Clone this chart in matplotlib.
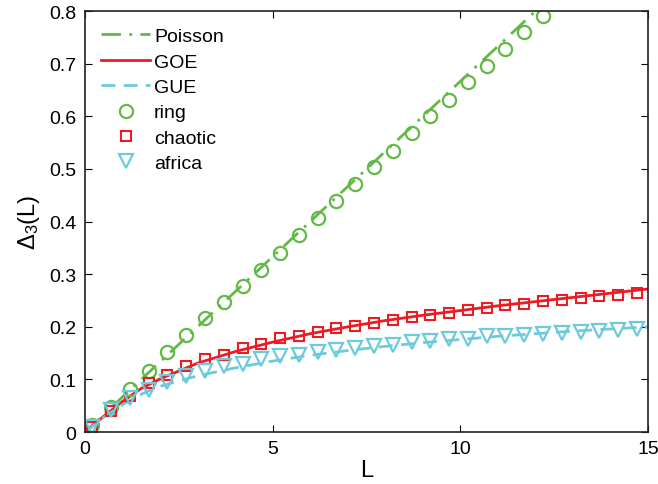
import numpy as np
import matplotlib
matplotlib.use('Agg')
import matplotlib.pyplot as plt

plt.rcParams['font.family'] = ['Liberation Sans', 'DejaVu Sans']
plt.rcParams['mathtext.fontset'] = 'custom'
plt.rcParams['mathtext.rm'] = 'Liberation Sans'
plt.rcParams['mathtext.it'] = 'Liberation Sans'

# theory curves
L_poisson = [0, 15]
poisson = [0, 1.0]

L_theory = [0, 0.5, 1, 1.5, 2, 3, 4, 5, 6, 7, 8, 9, 10, 11, 12, 13, 14, 15]
goe = [0, 0.03, 0.058, 0.083, 0.101, 0.131, 0.153, 0.171, 0.187, 0.200,
       0.212, 0.222, 0.231, 0.240, 0.248, 0.256, 0.264, 0.272]
gue = [0, 0.028, 0.052, 0.072, 0.087, 0.107, 0.122, 0.135, 0.146, 0.155,
       0.163, 0.170, 0.176, 0.182, 0.187, 0.192, 0.196, 0.200]

# measured spectra
L_data = [0.2, 0.7, 1.2, 1.7, 2.2, 2.7, 3.2, 3.7, 4.2, 4.7, 5.2, 5.7, 6.2, 6.7, 7.2,
          7.7, 8.2, 8.7, 9.2, 9.7, 10.2, 10.7, 11.2, 11.7, 12.2, 12.7, 13.2, 13.7, 14.2, 14.7]
ring = [0.013, 0.047, 0.082, 0.117, 0.152, 0.184, 0.216, 0.247, 0.278, 0.309,
        0.341, 0.374, 0.407, 0.439, 0.471, 0.503, 0.535, 0.568, 0.601, 0.632,
        0.665, 0.696, 0.728, 0.760, 0.791, 0.823, 0.855, 0.887, 0.919, 0.951]
chaotic = [0.010, 0.040, 0.069, 0.094, 0.108, 0.126, 0.139, 0.147, 0.160, 0.167,
           0.178, 0.183, 0.190, 0.198, 0.202, 0.207, 0.213, 0.219, 0.223, 0.226,
           0.232, 0.236, 0.241, 0.243, 0.249, 0.251, 0.255, 0.259, 0.260, 0.264]
africa = [0.010, 0.042, 0.064, 0.080, 0.095, 0.107, 0.116, 0.126, 0.129, 0.139,
          0.144, 0.146, 0.152, 0.156, 0.160, 0.164, 0.165, 0.171, 0.173, 0.177,
          0.177, 0.182, 0.183, 0.185, 0.186, 0.188, 0.190, 0.193, 0.194, 0.196]

green = '#62b946'
red = '#ed1c24'
cyan = '#6ccadc'

fig = plt.figure(figsize=(6.58, 4.85), dpi=100)
ax = fig.add_axes([0.129, 0.107, 0.856, 0.868])

ax.plot(L_poisson, poisson, color=green, lw=2, dashes=(7, 3, 1, 3), label='Poisson')
ax.plot(L_theory, goe, color=red, lw=2, label='GOE')
ax.plot(L_theory, gue, color=cyan, lw=2, dashes=(5, 3), label='GUE')

ax.plot(L_data, ring, 'o', ms=9.5, mfc='none', mec=green, mew=1.6, label='ring')
ax.plot(L_data, chaotic, 's', ms=7.5, mfc='none', mec=red, mew=1.5, label='chaotic')
ax.plot(L_data, africa, 'v', ms=9.5, mfc='none', mec=cyan, mew=1.6, label='africa')

ax.set_xlim(0, 15)
ax.set_ylim(0, 0.8)
ax.set_xticks([0, 5, 10, 15])
ax.set_yticks(np.arange(0, 0.81, 0.1))
ax.set_yticklabels(['0', '0.1', '0.2', '0.3', '0.4', '0.5', '0.6', '0.7', '0.8'])
ax.tick_params(direction='in', top=True, right=True, length=5, width=0.8,
               labelsize=14, pad=6)
for s in ax.spines.values():
    s.set_linewidth(1.2)
    s.set_color('#222222')

ax.set_xlabel('L', fontsize=17, labelpad=1)
ax.set_ylabel(r'$\Delta_3$(L)', fontsize=17, labelpad=5)

ax.legend(loc='upper left', frameon=False, fontsize=14, handlelength=2.5,
          handletextpad=0.2, labelspacing=0.4, borderaxespad=0.45,
          bbox_to_anchor=(0.0, 1.0))

fig.savefig('out.png', dpi=100)
